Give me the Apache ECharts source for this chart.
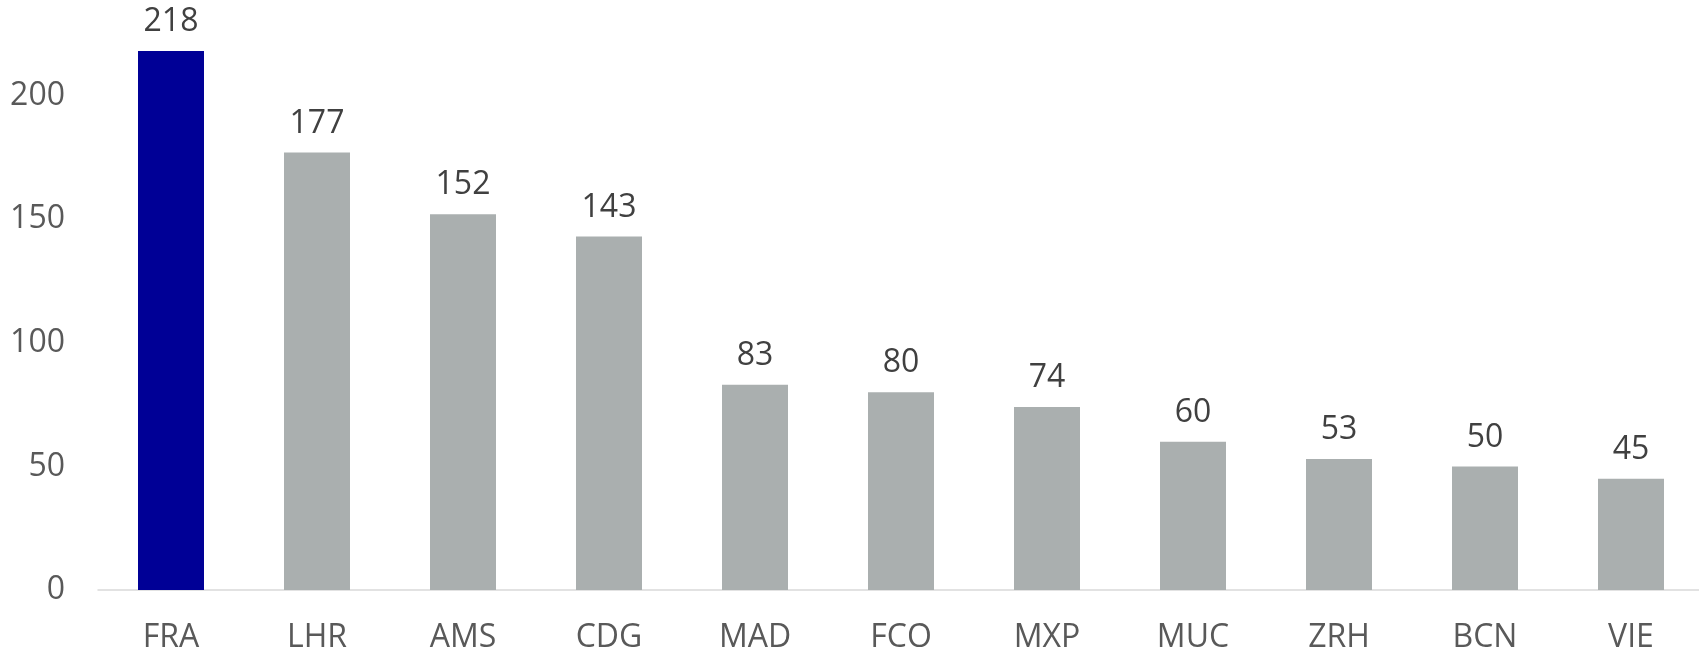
<!DOCTYPE html>
<html>
<head>
<meta charset="utf-8">
<style>
  html, body { margin: 0; padding: 0; background: #fff; }
  #chart { width: 1699px; height: 652px; }
</style>
<script src="https://cdn.jsdelivr.net/npm/echarts@6/dist/echarts.min.js"></script>
</head>
<body>
<div id="chart"></div>
<script>
const airports = ['FRA', 'LHR', 'AMS', 'CDG', 'MAD', 'FCO', 'MXP', 'MUC', 'ZRH', 'BCN', 'VIE']
const values = [218, 177, 152, 143, 83, 80, 74, 60, 53, 50, 45]
const highlight = 'FRA'

const chart = echarts.init(document.getElementById('chart'))

chart.setOption({
  animation: false,
  textStyle: { fontFamily: 'Open Sans' },
  grid: {
    left: 98,
    right: -5,
    top: -28,
    bottom: 62,
    outerBoundsMode: 'none',
    containLabel: false,
  },
  xAxis: {
    type: 'category',
    data: airports,
    axisTick: { show: false },
    axisLine: { lineStyle: { color: '#D9D9D9', width: 1.5 } },
    axisLabel: {
      color: '#595959',
      fontSize: 32,
      margin: 32,
    },
  },
  yAxis: {
    type: 'value',
    min: 0,
    max: 250,
    interval: 50,
    splitLine: { show: false },
    axisLine: { show: false },
    axisTick: { show: false },
    axisLabel: {
      color: '#595959',
      fontSize: 32,
      margin: 33,
    },
  },
  series: [{
    type: 'bar',
    barWidth: 66,
    data: values.map((v, i) => ({
      value: v,
      itemStyle: { color: airports[i] === highlight ? '#000096' : '#AAAFAF' },
    })),
    label: {
      show: true,
      position: 'top',
      distance: 13,
      color: '#404040',
      fontSize: 32,
    },
  }],
})
</script>
</body>
</html>
